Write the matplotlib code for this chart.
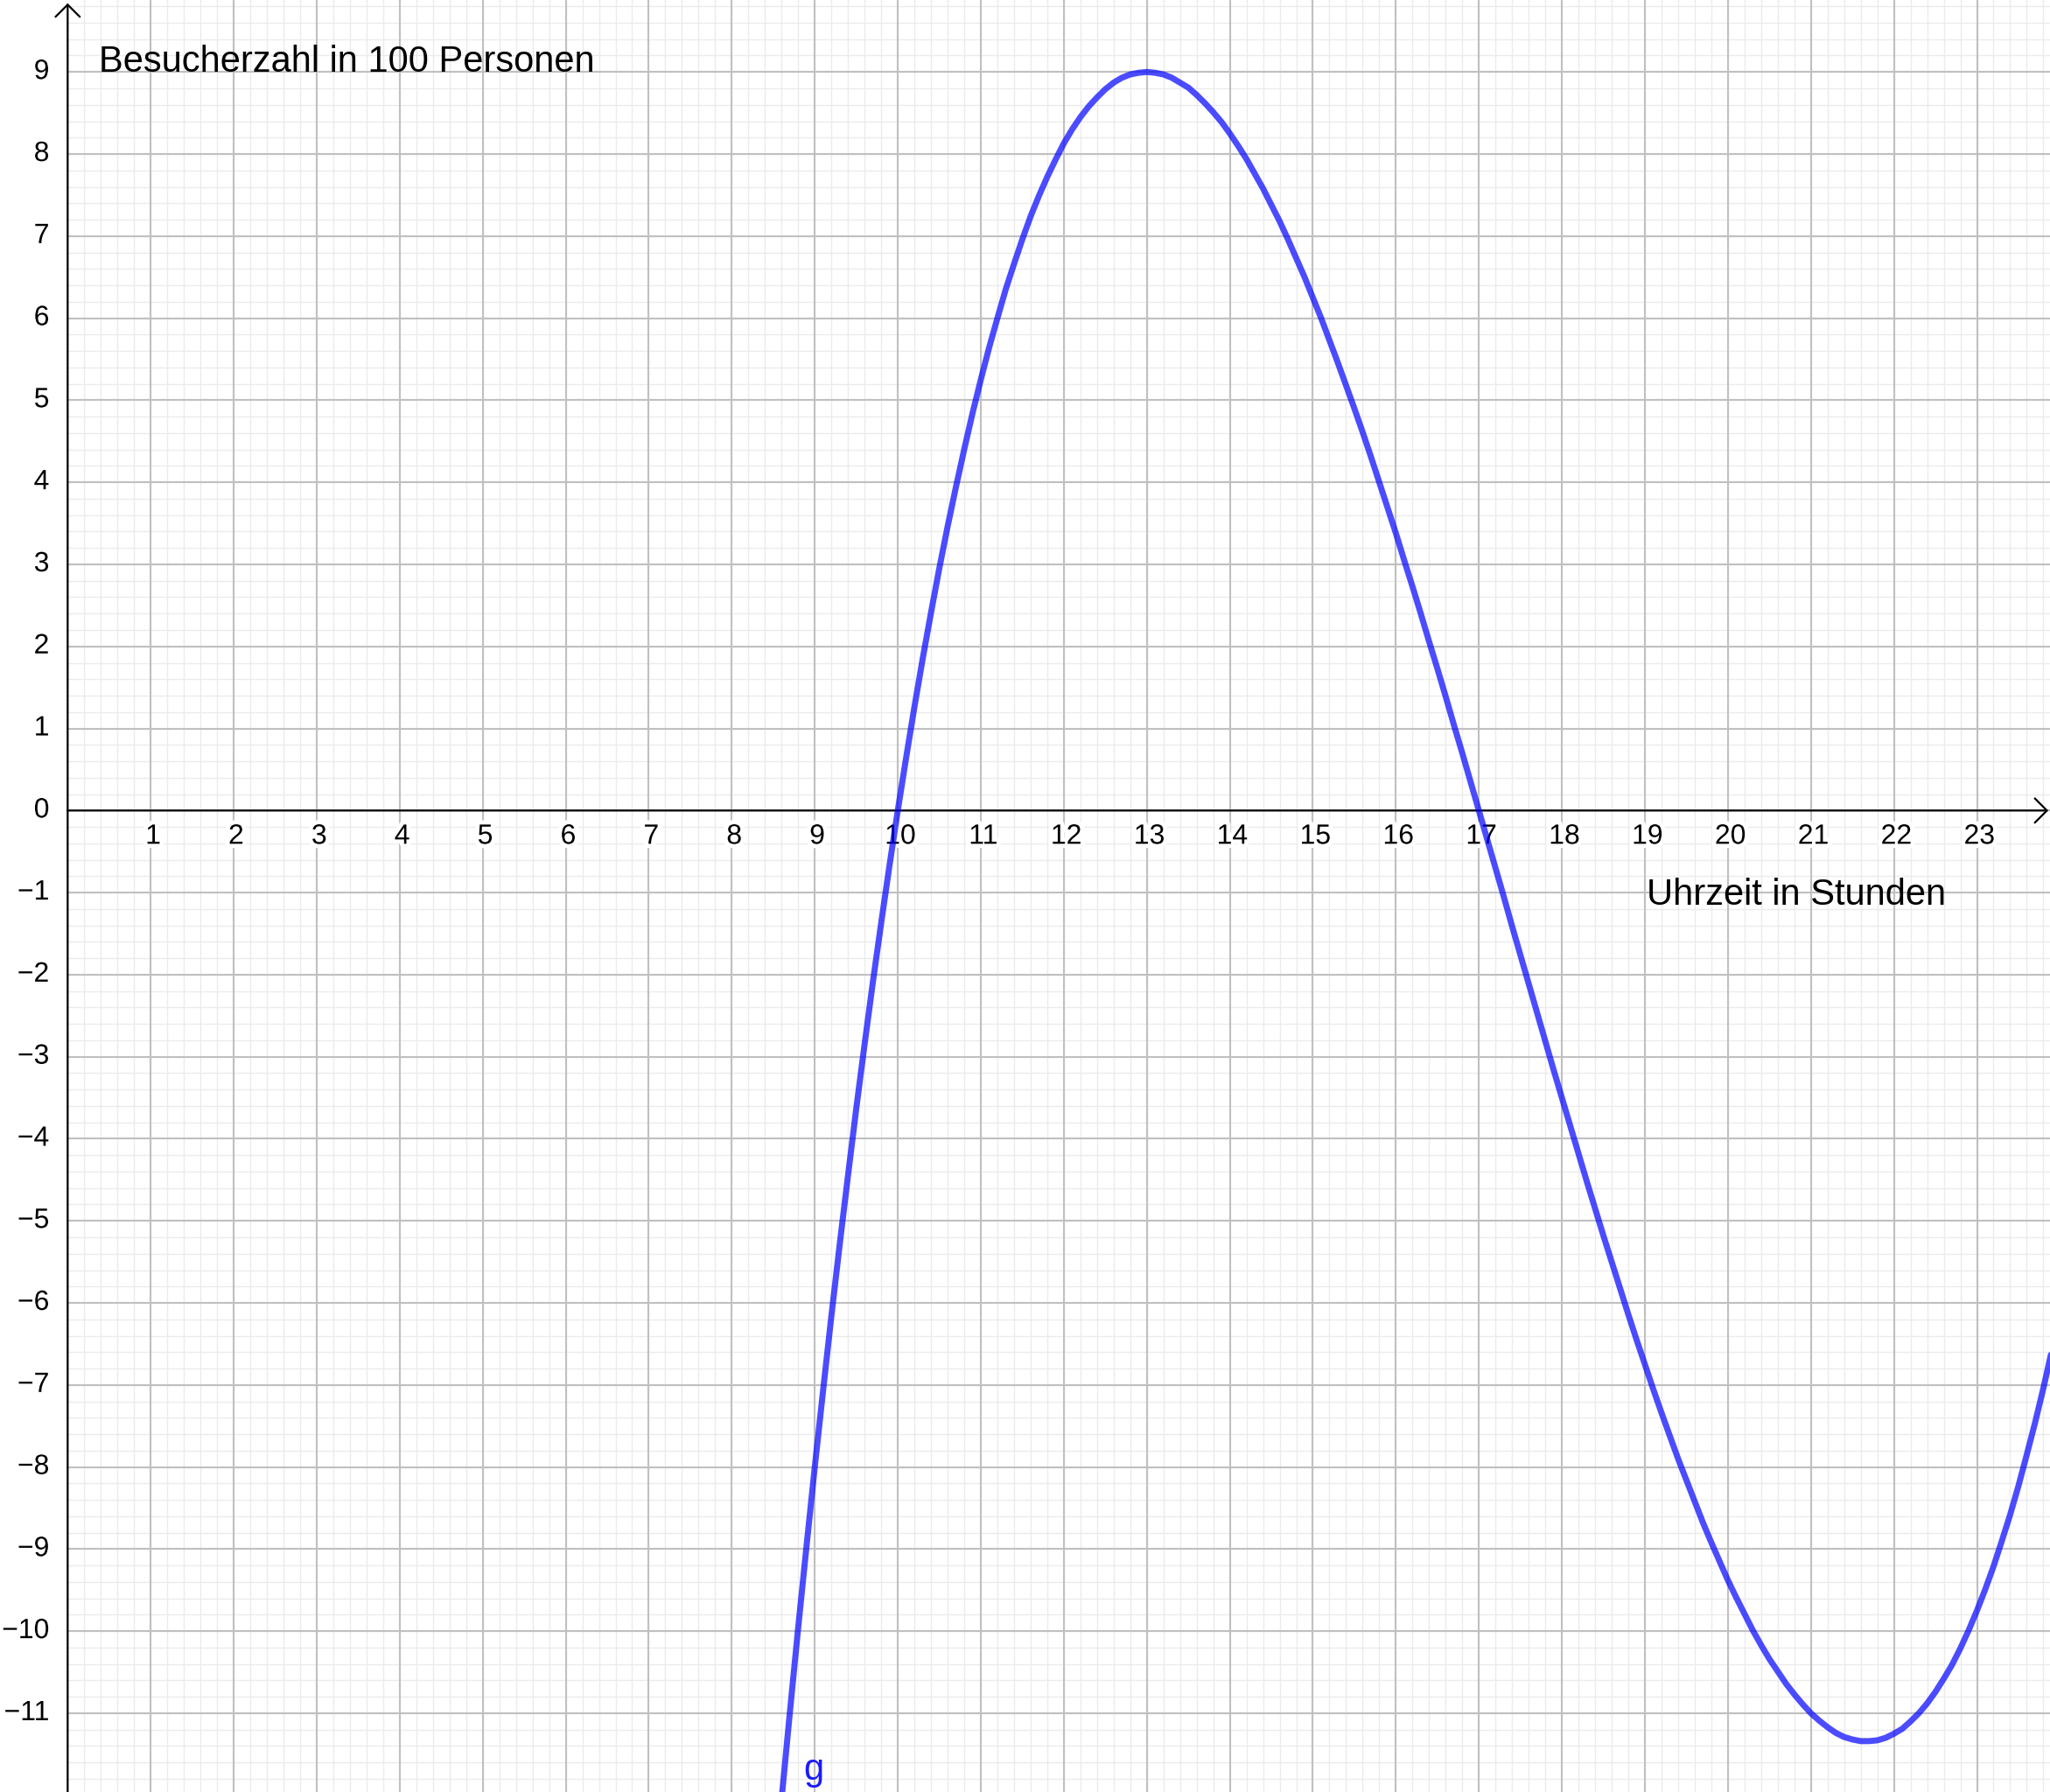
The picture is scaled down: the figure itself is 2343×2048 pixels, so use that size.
import numpy as np
import matplotlib
matplotlib.use('Agg')
import matplotlib.pyplot as plt
import matplotlib.patheffects as pe

plt.rcParams['font.family'] = ['Liberation Sans', 'DejaVu Sans']

# Function g (hours -> visitors in 100 persons)
hours = [8.5, 8.6, 8.7, 8.8, 8.9, 9.0, 9.1, 9.2, 9.3, 9.4, 9.5, 9.6, 9.7, 9.8, 9.9,
         10.0, 10.1, 10.2, 10.3, 10.4, 10.5, 10.6, 10.7, 10.8, 10.9,
         11.0, 11.1, 11.2, 11.3, 11.4, 11.5, 11.6, 11.7, 11.8, 11.9,
         12.0, 12.1, 12.2, 12.3, 12.4, 12.5, 12.6, 12.7, 12.8, 12.9,
         13.0, 13.1, 13.2, 13.3, 13.4, 13.5, 13.6, 13.7, 13.8, 13.9,
         14.0, 14.1, 14.2, 14.3, 14.4, 14.5, 14.6, 14.7, 14.8, 14.9,
         15.0, 15.1, 15.2, 15.3, 15.4, 15.5, 15.6, 15.7, 15.8, 15.9,
         16.0, 16.1, 16.2, 16.3, 16.4, 16.5, 16.6, 16.7, 16.8, 16.9,
         17.0, 17.1, 17.2, 17.3, 17.4, 17.5, 17.6, 17.7, 17.8, 17.9,
         18.0, 18.1, 18.2, 18.3, 18.4, 18.5, 18.6, 18.7, 18.8, 18.9,
         19.0, 19.1, 19.2, 19.3, 19.4, 19.5, 19.6, 19.7, 19.8, 19.9,
         20.0, 20.1, 20.2, 20.3, 20.4, 20.5, 20.6, 20.7, 20.8, 20.9,
         21.0, 21.1, 21.2, 21.3, 21.4, 21.5, 21.6, 21.7, 21.8, 21.9,
         22.0, 22.1, 22.2, 22.3, 22.4, 22.5, 22.6, 22.7, 22.8, 22.9,
         23.0, 23.1, 23.2, 23.3, 23.4, 23.5, 23.6, 23.7, 23.8, 23.9]
visitors = [-13.15, -12.05, -10.99, -9.96, -8.97, -8.0, -7.07, -6.16, -5.29, -4.45,
            -3.63, -2.85, -2.09, -1.37, -0.67,
            0.0, 0.64, 1.26, 1.85, 2.41, 2.95, 3.46, 3.94, 4.40, 4.84,
            5.25, 5.64, 6.00, 6.35, 6.66, 6.96, 7.24, 7.49, 7.72, 7.93,
            8.13, 8.30, 8.45, 8.58, 8.69, 8.79, 8.87, 8.93, 8.97, 8.99,
            9.0, 8.99, 8.97, 8.93, 8.87, 8.81, 8.72, 8.62, 8.51, 8.39,
            8.25, 8.10, 7.94, 7.76, 7.58, 7.38, 7.18, 6.96, 6.73, 6.50,
            6.25, 6.00, 5.73, 5.46, 5.18, 4.90, 4.61, 4.31, 4.00, 3.69,
            3.38, 3.05, 2.73, 2.40, 2.06, 1.73, 1.39, 1.04, 0.70, 0.35,
            0.0, -0.35, -0.70, -1.05, -1.41, -1.76, -2.11, -2.46, -2.81, -3.16,
            -3.5, -3.84, -4.18, -4.52, -4.85, -5.18, -5.50, -5.82, -6.14, -6.45,
            -6.75, -7.05, -7.34, -7.62, -7.90, -8.16, -8.42, -8.68, -8.92, -9.15,
            -9.38, -9.59, -9.79, -9.99, -10.17, -10.34, -10.49, -10.64, -10.77, -10.89,
            -11.0, -11.09, -11.17, -11.24, -11.29, -11.32, -11.34, -11.34, -11.33, -11.30,
            -11.25, -11.19, -11.10, -11.00, -10.88, -10.74, -10.58, -10.41, -10.21, -9.99,
            -9.75, -9.49, -9.21, -8.90, -8.58, -8.23, -7.85, -7.46, -7.04, -6.59]

x_ticks = list(range(1, 24))
y_ticks = [9, 8, 7, 6, 5, 4, 3, 2, 1, 0, -1, -2, -3, -4, -5, -6, -7, -8, -9, -10, -11]

xmin, xmax = -0.815, 23.88
ymin, ymax = -11.96, 9.877

fig = plt.figure(figsize=(23.43, 20.48), dpi=100)
ax = fig.add_axes([0, 0, 1, 1])
ax.set_xlim(xmin, xmax)
ax.set_ylim(ymin, ymax)
ax.axis('off')

# grid only on the right of the y axis: minor every 0.2, major every 1
xfrac = (0 - xmin) / (xmax - xmin)
for v in np.arange(0.2, 24.0, 0.2):
    ax.axvline(v, color='#ebebeb', lw=1.0, zorder=0)
for v in np.arange(-11.8, 10.0, 0.2):
    ax.axhline(v, xmin=xfrac, color='#ebebeb', lw=1.0, zorder=0)
for v in range(1, 24):
    ax.axvline(v, color='#c0c0c0', lw=1.5, zorder=1)
for v in range(-11, 10):
    ax.axhline(v, xmin=xfrac, color='#c0c0c0', lw=1.5, zorder=1)

# axes with open arrow heads
arrow = dict(arrowstyle='->,head_length=0.5,head_width=0.5', lw=1.6, color='black',
             shrinkA=0, shrinkB=0, mutation_scale=20)
ax.annotate('', xy=(xmax - 0.02, 0), xytext=(0, 0), arrowprops=arrow, zorder=2)
ax.annotate('', xy=(0, ymax - 0.04), xytext=(0, ymin), arrowprops=arrow, zorder=2)

halo = [pe.withStroke(linewidth=7, foreground='white')]
for t in x_ticks:
    ax.text(t + 0.03, -0.32, str(t), ha='center', va='center', fontsize=23,
            path_effects=halo, zorder=3)
for t in y_ticks:
    lbl = str(t).replace('-', '\u2212')
    ax.text(-0.22, t, lbl, ha='right', va='center', fontsize=23,
            path_effects=halo, zorder=3)

ax.text(0.38, 9.0, 'Besucherzahl in 100 Personen', fontsize=30,
        ha='left', va='baseline', zorder=3)
ax.text(19.02, -1.15, 'Uhrzeit in Stunden', fontsize=30,
        ha='left', va='baseline', zorder=3)

# graph of g
ax.plot(hours, visitors, color='#0000ff', alpha=0.7, lw=5,
        solid_joinstyle='round', solid_capstyle='round', zorder=4)
ax.text(8.86, -11.81, 'g', color='#1a1aff', fontsize=30,
        ha='left', va='baseline', zorder=5)

fig.savefig('out.png', dpi=100)
